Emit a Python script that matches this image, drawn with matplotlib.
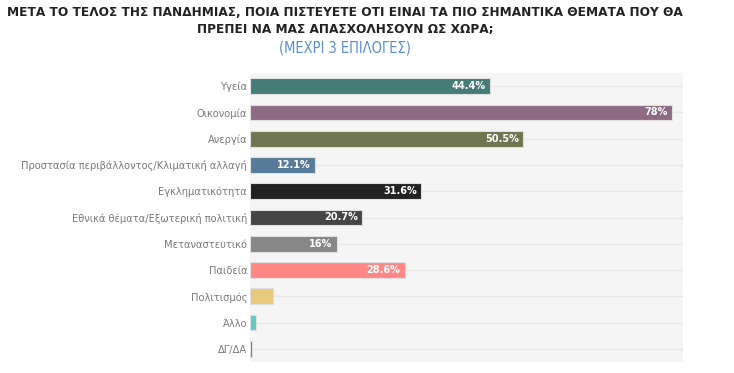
import matplotlib; matplotlib.use("Agg")
import matplotlib.pyplot as plt
import numpy as np

cats = ["Υγεία", "Οικονομία", "Ανεργία", "Προστασία περιβάλλοντος/Κλιματική αλλαγή",
        "Εγκληματικότητα", "Εθνικά θέματα/Εξωτερική πολιτική", "Μεταναστευτικό",
        "Παιδεία", "Πολιτισμός", "Άλλο", "ΔΓ/ΔΑ"]
vals = [44.4, 78, 50.5, 12.1, 31.6, 20.7, 16, 28.6, 4.3, 1.1, 0.3]
labels = ["44.4%", "78%", "50.5%", "12.1%", "31.6%", "20.7%", "16%", "28.6%", "", "", ""]
cols = ["#467c78", "#8e6a85", "#6f7550", "#567b98", "#222222", "#454545", "#878787",
        "#ff8886", "#e8ca7d", "#63c7c5", "#6b7a90"]

plt.rcParams["font.family"] = ["DejaVu Sans"]
plt.rcParams["font.stretch"] = "condensed"

fig = plt.figure(figsize=(7.34, 3.73), dpi=100)
ax = fig.add_axes([250/734, 1-362/373, 433/734, 289/373])
ax.set_facecolor("#f5f5f5")
y = np.arange(len(cats))
for yy in y:
    ax.axhline(yy, color="#e8e8e8", lw=1, zorder=0)
ax.barh(y, vals, height=0.6, color=cols, edgecolor="#e0e0e0", lw=0.8, zorder=2)
for yy, v, t in zip(y, vals, labels):
    if t:
        ax.text(v - 0.8, yy, t, ha="right", va="center", color="white", fontsize=7.8,
                fontweight="bold", zorder=3)
ax.set_xlim(0, 80)
ax.set_ylim(len(cats) - 0.5, -0.5)
ax.set_yticks(y)
ax.set_yticklabels(cats, fontsize=7.9, color="#7a7a7a")
ax.tick_params(axis="y", length=0, pad=2)
ax.set_xticks([])
for s in ax.spines.values():
    s.set_visible(False)

fig.text(345/734, 1-12/373, "ΜΕΤΑ ΤΟ ΤΕΛΟΣ ΤΗΣ ΠΑΝΔΗΜΙΑΣ, ΠΟΙΑ ΠΙΣΤΕΥΕΤΕ ΟΤΙ ΕΙΝΑΙ ΤΑ ΠΙΟ ΣΗΜΑΝΤΙΚΑ ΘΕΜΑΤΑ ΠΟΥ ΘΑ",
         ha="center", va="center", fontsize=9.7, fontweight="bold", color="#222222")
fig.text(345/734, 1-29/373, "ΠΡΕΠΕΙ ΝΑ ΜΑΣ ΑΠΑΣΧΟΛΗΣΟΥΝ ΩΣ ΧΩΡΑ;",
         ha="center", va="center", fontsize=9.7, fontweight="bold", color="#222222")
fig.text(345/734, 1-48/373, "(ΜΕΧΡΙ 3 ΕΠΙΛΟΓΕΣ)",
         ha="center", va="center", fontsize=10.5, color="#5b8fd0")

fig.savefig("out.png", dpi=100, facecolor="white")
